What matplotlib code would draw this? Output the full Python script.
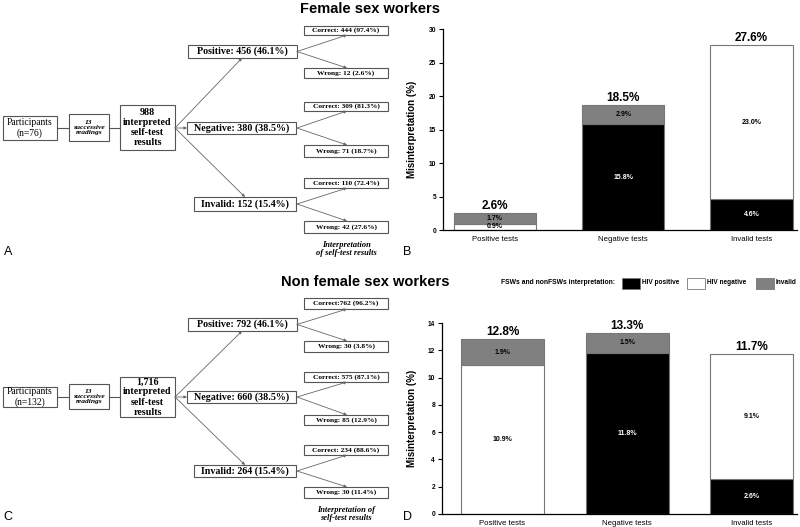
import numpy as np
import matplotlib
matplotlib.use("Agg")
import matplotlib.pyplot as plt
from matplotlib.patches import Rectangle

plt.rcParams['font.family'] = ['Liberation Sans', 'DejaVu Sans']

# ---- data ----
categories = ["Positive tests", "Negative tests", "Invalid tests"]

fsw_hiv_pos = [0.0, 15.8, 4.6]
fsw_hiv_neg = [0.9, 0.0, 23.0]
fsw_invalid = [1.7, 2.9, 0.0]
fsw_totals = [2.6, 18.5, 27.6]

non_hiv_pos = [0.0, 11.8, 2.6]
non_hiv_neg = [10.9, 0.0, 9.1]
non_invalid = [1.9, 1.5, 0.0]
non_totals = [12.8, 13.3, 11.7]

fsw_participants = "Participants\n(n=76)"
fsw_results = "988\ninterpreted\nself-test\nresults"
fsw_branch = ["Positive: 456 (46.1%)", "Negative: 380 (38.5%)", "Invalid: 152 (15.4%)"]
fsw_correct = ["Correct: 444 (97.4%)", "Correct: 309 (81.3%)", "Correct: 110 (72.4%)"]
fsw_wrong = ["Wrong: 12 (2.6%)", "Wrong: 71 (18.7%)", "Wrong: 42 (27.6%)"]

non_participants = "Participants\n(n=132)"
non_results = "1,716\ninterpreted\nself-test\nresults"
non_branch = ["Positive: 792 (46.1%)", "Negative: 660 (38.5%)", "Invalid: 264 (15.4%)"]
non_correct = ["Correct:762 (96.2%)", "Correct: 575 (87.1%)", "Correct: 234 (88.6%)"]
non_wrong = ["Wrong: 30 (3.8%)", "Wrong: 85 (12.9%)", "Wrong: 30 (11.4%)"]

SERIF = ['Liberation Serif', 'DejaVu Serif']
EDGE = '#555555'

fig = plt.figure(figsize=(8, 5.27), dpi=100)
fl = fig.add_axes([0, 0, 1, 1])
fl.set_xlim(0, 800)
fl.set_ylim(527, 0)
fl.axis('off')


def box(x0, x1, y0, y1, txt, size, weight='bold', style='normal', lw=0.8, ls=1.1):
    fl.add_patch(Rectangle((x0, y0), x1 - x0, y1 - y0, fc='white', ec=EDGE, lw=lw))
    fl.text((x0 + x1) / 2, (y0 + y1) / 2, txt, ha='center', va='center',
            fontsize=size, weight=weight, style=style, family=SERIF,
            linespacing=ls)


def arrow(p0, p1):
    fl.annotate('', xy=p1, xytext=p0,
                arrowprops=dict(arrowstyle='-|>', color='#666666', lw=0.6,
                                mutation_scale=4, shrinkA=0, shrinkB=0))


def flow(yc, y_tot, y_part, y_read, y_br, y_cor, y_wr, parts, total, br, cor, wr,
         interp, y_interp):
    # participants -> readings -> results
    box(3, 57, y_part[0], y_part[1], parts, 6.9, weight='normal', ls=1.15)
    box(69, 109, y_read[0], y_read[1], "13\nsuccessive\nreadings", 5.4, style='italic')
    box(120, 175, y_tot[0], y_tot[1], total, 7.2, ls=1.15)
    fl.plot([57, 69], [yc, yc], color=EDGE, lw=0.8)
    fl.plot([109, 120], [yc, yc], color=EDGE, lw=0.8)
    bx = [(188, 297), (187, 296), (194, 296)]
    for i in range(3):
        b0, b1 = y_br[i]
        box(bx[i][0], bx[i][1], b0, b1, br[i], 7.2)
        box(304, 388, y_cor[i][0], y_cor[i][1], cor[i], 5.3)
        box(304, 388, y_wr[i][0], y_wr[i][1], wr[i], 5.3)
        ym = (b0 + b1) / 2
        arrow((297, ym), (347, y_cor[i][1]))
        arrow((297, ym), (347, y_wr[i][0]))
    arrow((175, yc), (242, y_br[0][1]))
    arrow((175, yc), (187, y_br[1][0] + 6))
    arrow((175, yc), (245, y_br[2][0]))
    fl.text(346, y_interp, interp, ha='center', va='center', fontsize=6,
            weight='bold', style='italic', family=SERIF, linespacing=1.1)


flow(128, (105, 150), (116, 140), (114, 141),
     [(45, 58), (122, 134), (197, 211)],
     [(26, 35), (102, 111), (178, 188)],
     [(68, 78), (145, 157), (221, 233)],
     fsw_participants, fsw_results, fsw_branch, fsw_correct, fsw_wrong,
     "Interpretation\nof self-test results", 249)

flow(397, (377, 417), (387, 407), (384, 409),
     [(318, 331), (391, 403), (465, 477)],
     [(298, 309), (372, 382), (445, 455)],
     [(341, 352), (415, 425), (487, 498)],
     non_participants, non_results, non_branch, non_correct, non_wrong,
     "Interpretation of\nself-test results", 514)

fl.text(370, 9, "Female sex workers", ha='center', va='center', fontsize=10.5, weight='bold')
fl.text(365, 282, "Non female sex workers", ha='center', va='center', fontsize=10.5, weight='bold')
for lab, (x, y) in zip("ABCD", [(8, 252), (407, 252), (8, 517), (407, 517)]):
    fl.text(x, y, lab, ha='center', va='center', fontsize=9)

# legend
fl.text(501, 283, "FSWs and nonFSWs interpretation:", ha='left', va='center', fontsize=4.9, weight='bold')
for x0, col, lab in [(622, 'black', 'HIV positive'), (687, 'white', 'HIV negative'), (756, '#808080', 'Invalid')]:
    fl.add_patch(Rectangle((x0, 278), 18, 11, fc=col, ec='#777777', lw=0.6))
    fl.text(x0 + 20, 283, lab, ha='left', va='center', fontsize=4.7, weight='bold')


def bars(rect, pos, neg, inv, totals, ymax, step, width, xlim):
    ax = fig.add_axes(rect)
    x = np.arange(len(categories))
    pos, neg, inv = np.array(pos), np.array(neg), np.array(inv)
    layers = [(pos, 'black', np.zeros(3)), (neg, 'white', pos), (inv, '#808080', pos + neg)]
    for vals, col, bottom in layers:
        for i in range(3):
            if vals[i] <= 0:
                continue
            ax.bar(x[i], vals[i], width, bottom=bottom[i], color=col, edgecolor='#777777', lw=0.8)
            ax.text(x[i], bottom[i] + vals[i] / 2, f"{vals[i]:.1f}%", ha='center', va='center',
                    fontsize=5, weight='bold', color='white' if col == 'black' else 'black')
    top = pos + neg + inv
    for i in range(3):
        ax.text(x[i], top[i] + ymax * 0.005, f"{totals[i]}%", ha='center', va='bottom',
                fontsize=8.5, weight='bold')
    ax.set_xlim(*xlim)
    ax.set_ylim(0, ymax)
    ax.set_yticks(np.arange(0, ymax + 0.1, step))
    ax.set_xticks(x)
    ax.set_xticklabels(categories, fontsize=5.6)
    ax.tick_params(axis='x', length=0, pad=4)
    ax.tick_params(axis='y', labelsize=4.8, length=3, width=0.8, pad=2)
    for t in ax.get_yticklabels():
        t.set_weight('bold')
    ax.spines['top'].set_visible(False)
    ax.spines['right'].set_visible(False)
    ax.spines['left'].set_linewidth(0.9)
    ax.spines['bottom'].set_linewidth(0.9)
    ax.set_ylabel("Misinterpretation (%)", fontsize=7, weight='bold', labelpad=8)
    ax.patch.set_alpha(0)
    return ax


bars([443 / 800, 1 - 230 / 527, 354 / 800, 201 / 527], fsw_hiv_pos, fsw_hiv_neg, fsw_invalid,
     fsw_totals, 30, 5, 0.64, (-0.405, 2.355))
bars([442 / 800, 1 - 514 / 527, 355 / 800, 191 / 527], non_hiv_pos, non_hiv_neg, non_invalid,
     non_totals, 14, 2, 0.667, (-0.486, 2.365))

fig.savefig("out.png", dpi=100)
